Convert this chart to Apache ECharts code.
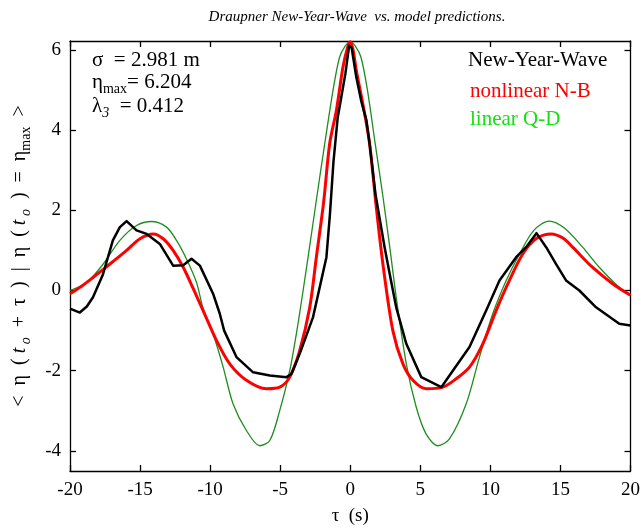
<!DOCTYPE html>
<html>
<head>
<meta charset="utf-8">
<script src="https://cdn.jsdelivr.net/npm/echarts@6/dist/echarts.min.js"></script>
<style>html,body{margin:0;padding:0;background:#fff}#c{width:643px;height:531px}</style>
</head>
<body>
<div id="c"></div>
<script>
// ---- data ----
var xTicks = [-20, -15, -10, -5, 0, 5, 10, 15, 20];
var yTicks = [-4, -2, 0, 2, 4, 6];

var tauWave = [-20, -19.3, -18.8, -18.36, -17.65, -16.94, -16.44, -15.96, -15.25, -14.53, -13.59, -12.64, -11.92, -11.33, -10.73, -9.79, -9.31, -9.0, -8.12, -6.93, -5.74, -4.55, -4.2, -3.61, -2.66, -1.7, -1.45, -1.2, -0.9, -0.6, -0.35, -0.08, 0.1, 0.43, 0.8, 1.15, 1.38, 1.8, 2.45, 2.85, 3.28, 4.0, 5.07, 6.5, 7.32, 8.51, 9.7, 10.65, 11.84, 12.55, 13.29, 13.98, 14.69, 15.4, 16.35, 17.54, 19.2, 20];
var etaWave = [-0.45, -0.55, -0.4, -0.17, 0.4, 1.25, 1.58, 1.73, 1.5, 1.41, 1.16, 0.62, 0.63, 0.79, 0.62, -0.08, -0.58, -1.0, -1.66, -2.04, -2.12, -2.16, -2.08, -1.58, -0.67, 0.83, 1.9, 3.2, 4.3, 4.9, 5.4, 6.1, 6.05, 5.32, 4.7, 4.25, 3.66, 2.4, 1.08, 0.35, -0.42, -1.33, -2.16, -2.41, -2.0, -1.41, -0.5, 0.25, 0.83, 1.08, 1.43, 1.08, 0.66, 0.25, 0.0, -0.42, -0.83, -0.87];

var tauNB = [-20, -19.2, -18.34, -17.15, -15.96, -15.01, -14.06, -13.35, -12.64, -11.92, -11.21, -10.5, -9.54, -8.6, -7.41, -5.98, -5.03, -4.32, -3.61, -2.89, -2.42, -1.9, -1.47, -0.99, -0.52, -0.2, 0, 0.2, 0.43, 0.9, 1.38, 1.85, 2.33, 3.04, 3.76, 4.47, 5.42, 6.61, 7.56, 8.51, 9.46, 10.41, 11.36, 12.31, 13.3, 14.35, 15.2, 15.87, 17.28, 18.72, 20];
var etaNB = [-0.08, 0.1, 0.33, 0.66, 1.0, 1.29, 1.41, 1.29, 1.0, 0.58, 0.05, -0.5, -1.25, -1.83, -2.24, -2.45, -2.41, -2.16, -1.5, -0.42, 0.83, 2.2, 3.66, 4.49, 5.57, 6.05, 6.2, 6.0, 5.49, 4.65, 3.66, 2.1, 0.66, -1.0, -1.83, -2.24, -2.45, -2.41, -2.2, -1.91, -1.33, -0.5, 0.25, 0.91, 1.3, 1.41, 1.3, 1.08, 0.58, 0.17, -0.12];

var tauQD = [-20, -18.8, -17.63, -16.44, -15.25, -14.18, -13.11, -12.4, -11.68, -10.97, -10.5, -9.79, -9.07, -8.36, -7.41, -6.46, -5.74, -5.03, -4.32, -3.73, -3.01, -2.4, -1.82, -1.23, -0.76, -0.35, 0, 0.35, 0.76, 1.23, 1.78, 2.35, 2.85, 3.28, 4.0, 4.71, 5.42, 6.25, 7.08, 8.27, 9.22, 10.17, 11.13, 12.08, 13.1, 14.2, 15.3, 16.58, 17.77, 19.2, 20];
var etaQD = [0.0, 0.2, 0.66, 1.25, 1.62, 1.72, 1.58, 1.25, 0.78, 0.2, -0.45, -1.08, -1.91, -2.83, -3.49, -3.87, -3.74, -2.99, -2.0, -0.83, 0.83, 2.3, 3.66, 4.99, 5.82, 6.1, 6.2, 6.1, 5.82, 4.99, 3.66, 2.3, 1.0, -0.17, -1.83, -2.91, -3.58, -3.87, -3.7, -2.83, -1.66, -0.58, 0.25, 0.91, 1.5, 1.73, 1.55, 1.08, 0.58, 0.08, -0.1];

var seriesNames = ['New-Year-Wave', 'nonlinear N-B', 'linear Q-D'];
// ------------------------------------------------

function zip(a, b) { return a.map(function (v, i) { return [v, b[i]]; }); }

var FONT = '"Liberation Serif", "Times New Roman", serif';
var chart = echarts.init(document.getElementById('c'), null, { renderer: 'canvas' });

var lineCommon = { color: '#000', width: 1.3 };
function mkRich(size, subSize, pad) {
  return {
    b: { fontFamily: FONT, fontSize: size, color: '#000' },
    it: { fontFamily: FONT, fontSize: size, fontStyle: 'italic', color: '#000' },
    sub: { fontFamily: FONT, fontSize: subSize, color: '#000', padding: [pad, 0, 0, 0] },
    subi: { fontFamily: FONT, fontSize: subSize, fontStyle: 'italic', color: '#000', padding: [pad, 0, 0, 0] }
  };
}
var richAxis = mkRich(20, 14, 12);
var richNote = mkRich(21, 14, 13);

var YMIN = -4.5, YMAX = 6.22;

chart.setOption({
  animation: false,
  backgroundColor: '#fff',
  title: {
    text: 'Draupner New-Year-Wave  vs. model predictions.',
    left: 352, top: 5, textAlign: 'center',
    textStyle: { fontFamily: FONT, fontStyle: 'italic', fontWeight: 'normal', fontSize: 15, color: '#000' }
  },
  grid: { left: 70, right: 12, top: 41, bottom: 56, containLabel: false },
  xAxis: [{
    type: 'value', min: -20, max: 20, interval: 5, position: 'bottom',
    axisLine: { show: true, onZero: false, lineStyle: lineCommon },
    axisTick: { show: true, inside: true, length: 6, lineStyle: lineCommon },
    axisLabel: { show: true, margin: 10, fontFamily: FONT, fontSize: 19, color: '#000',
      customValues: xTicks },
    splitLine: { show: false },
    name: 'τ  (s)', nameLocation: 'middle', nameGap: 36,
    nameTextStyle: { fontFamily: FONT, fontSize: 19, color: '#000' }
  }, {
    type: 'value', min: -20, max: 20, interval: 5, position: 'top',
    axisLine: { show: true, onZero: false, lineStyle: lineCommon },
    axisTick: { show: true, inside: true, length: 6, lineStyle: lineCommon },
    axisLabel: { show: false }, splitLine: { show: false }
  }],
  yAxis: [{
    type: 'value', min: YMIN, max: YMAX, position: 'left',
    axisLine: { show: true, onZero: false, lineStyle: lineCommon },
    axisTick: { show: true, inside: true, length: 6, lineStyle: lineCommon, customValues: yTicks },
    axisLabel: { show: true, margin: 9, fontFamily: FONT, fontSize: 19, color: '#000', customValues: yTicks },
    splitLine: { show: false },
    name: '{b|<  η  (}{it| t}{subi| o}{b|  +  τ  )  |  η  (}{it| t}{subi| o}{b|  )  =  η}{sub|max}{b|  >}',
    nameLocation: 'middle', nameRotate: 90, nameGap: 37,
    nameTextStyle: { rich: richAxis }
  }, {
    type: 'value', min: YMIN, max: YMAX, position: 'right',
    axisLine: { show: true, onZero: false, lineStyle: lineCommon },
    axisTick: { show: true, inside: true, length: 6, lineStyle: lineCommon, customValues: yTicks },
    axisLabel: { show: false }, splitLine: { show: false }
  }],
  series: [{
    name: seriesNames[2], type: 'line', data: zip(tauQD, etaQD), showSymbol: false, smooth: 0.3,
    lineStyle: { color: '#1e8c1e', width: 1.3 }, z: 2
  }, {
    name: seriesNames[1], type: 'line', data: zip(tauNB, etaNB), showSymbol: false, smooth: 0.3,
    lineStyle: { color: '#ff0000', width: 3 }, z: 3
  }, {
    name: seriesNames[0], type: 'line', data: zip(tauWave, etaWave), showSymbol: false, smooth: false,
    lineStyle: { color: '#000000', width: 2.5, join: 'round' }, z: 4
  }],
  graphic: [
    { type: 'text', left: 92, top: 50, style: { text: '{b|σ  = 2.981 m}', rich: richNote } },
    { type: 'text', left: 92, top: 72, style: { text: '{b|η}{sub|max}{b|= 6.204}', rich: richNote } },
    { type: 'text', left: 92, top: 96, style: { text: '{b|λ}{subi|3}{b|  = 0.412}', rich: richNote } },
    { type: 'text', left: 468, top: 50, style: { text: seriesNames[0], fontFamily: FONT, fontSize: 21, fill: '#000' } },
    { type: 'text', left: 470, top: 81, style: { text: seriesNames[1], fontFamily: FONT, fontSize: 21, fill: '#ff0000' } },
    { type: 'text', left: 470, top: 109, style: { text: seriesNames[2], fontFamily: FONT, fontSize: 21, fill: '#14e014' } }
  ]
});
</script>
</body>
</html>
